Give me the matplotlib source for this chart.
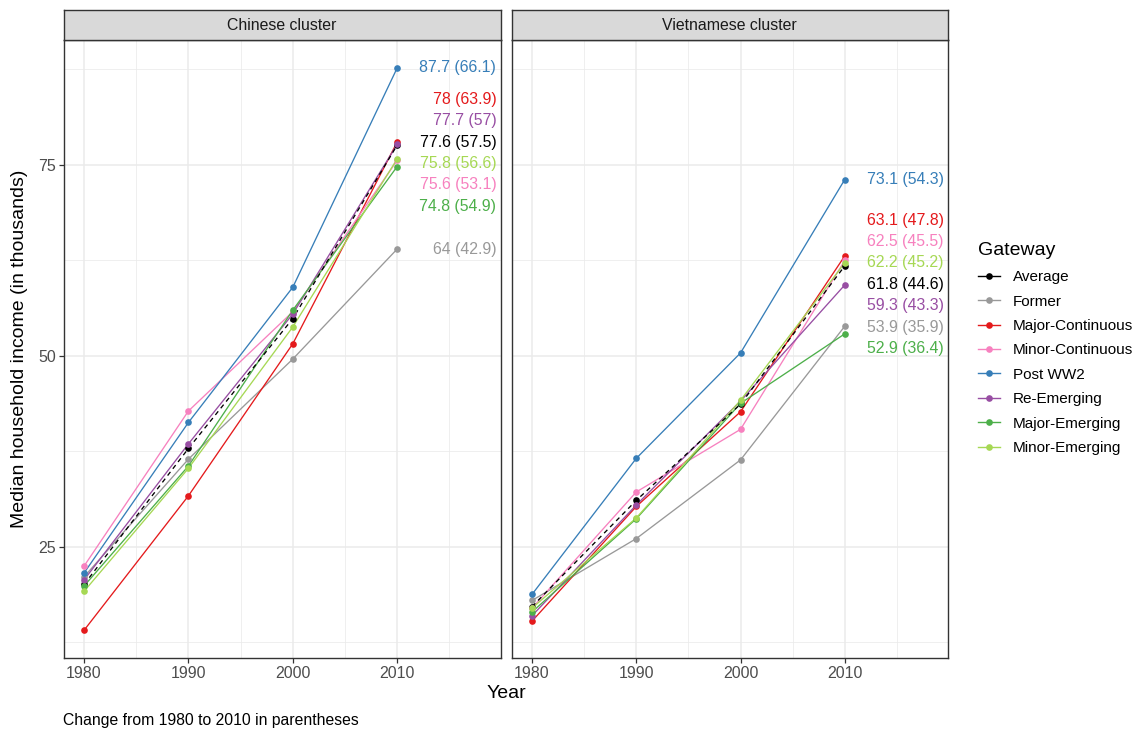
import matplotlib
matplotlib.use("Agg")
import matplotlib.pyplot as plt
from matplotlib.lines import Line2D
import numpy as np

plt.rcParams['font.family'] = ['Liberation Sans', 'DejaVu Sans']

years = [1980, 1990, 2000, 2010]
gateways = ["Average", "Former", "Major-Continuous", "Minor-Continuous",
            "Post WW2", "Re-Emerging", "Major-Emerging", "Minor-Emerging"]
colors = {"Average": "#000000", "Former": "#999999", "Major-Continuous": "#E41A1C",
          "Minor-Continuous": "#F781BF", "Post WW2": "#377EB8", "Re-Emerging": "#984EA3",
          "Major-Emerging": "#4DAF4A", "Minor-Emerging": "#A6D854"}

panels = ["Chinese cluster", "Vietnamese cluster"]

chinese = {
    "Average":          [20.1, 37.9, 54.9, 77.6],
    "Former":           [21.1, 36.5, 49.6, 64.0],
    "Major-Continuous": [14.1, 31.7, 51.6, 78.0],
    "Minor-Continuous": [22.5, 42.8, 55.8, 75.6],
    "Post WW2":         [21.6, 41.3, 59.0, 87.7],
    "Re-Emerging":      [20.7, 38.5, 55.5, 77.7],
    "Major-Emerging":   [19.9, 35.6, 56.0, 74.8],
    "Minor-Emerging":   [19.2, 35.3, 53.8, 75.8],
}
vietnamese = {
    "Average":          [17.2, 31.1, 43.7, 61.8],
    "Former":           [18.0, 26.1, 36.4, 53.9],
    "Major-Continuous": [15.3, 30.3, 42.7, 63.1],
    "Minor-Continuous": [17.0, 32.2, 40.4, 62.5],
    "Post WW2":         [18.8, 36.6, 50.4, 73.1],
    "Re-Emerging":      [16.0, 30.5, 44.1, 59.3],
    "Major-Emerging":   [16.5, 28.7, 43.8, 52.9],
    "Minor-Emerging":   [17.0, 28.8, 44.2, 62.2],
}
changes_ch = {"Average": 57.5, "Former": 42.9, "Major-Continuous": 63.9, "Minor-Continuous": 53.1,
              "Post WW2": 66.1, "Re-Emerging": 57, "Major-Emerging": 54.9, "Minor-Emerging": 56.6}
changes_vn = {"Average": 44.6, "Former": 35.9, "Major-Continuous": 47.8, "Minor-Continuous": 45.5,
              "Post WW2": 54.3, "Re-Emerging": 43.3, "Major-Emerging": 36.4, "Minor-Emerging": 45.2}
datasets = [(chinese, changes_ch), (vietnamese, changes_vn)]

W, H = 1137, 732
fig = plt.figure(figsize=(W / 100, H / 100), dpi=100)

def fx(px): return px / W
def fy(py): return 1 - py / H

panel_x = [(63.5, 500.5), (511.5, 948.0)]
top, bottom = 40.0, 658.0
strip_top = 10.0

def repel(values, gap):
    # simple 1-D label de-overlap: merge overlapping groups, center on mean
    order = np.argsort(values)
    vals = [values[i] for i in order]
    groups = []
    for v in vals:
        groups.append([v])
        while True:
            g = groups[-1]
            mean = np.mean(g)
            lo = mean - gap * (len(g) - 1) / 2
            if len(groups) > 1:
                pg = groups[-2]
                pmean = np.mean(pg)
                phi = pmean + gap * (len(pg) - 1) / 2
                if lo - phi < gap:
                    groups[-2] = pg + g
                    groups.pop()
                    continue
            break
    pos = []
    for g in groups:
        mean = np.mean(g)
        lo = mean - gap * (len(g) - 1) / 2
        pos += [lo + gap * k for k in range(len(g))]
    out = [0] * len(values)
    for k, i in enumerate(order):
        out[i] = pos[k]
    return out

xlim = (1978.03, 2019.9)
ylim = (10.47, 91.36)

for p, (title, (data, chg)) in enumerate(zip(panels, datasets)):
    x0, x1 = panel_x[p]
    ax = fig.add_axes([fx(x0), fy(bottom), fx(x1 - x0), (bottom - top) / H])
    ax.set_xlim(*xlim)
    ax.set_ylim(*ylim)
    ax.set_xticks(years)
    ax.set_xticks([1985, 1995, 2005, 2015], minor=True)
    ax.set_yticks([25, 50, 75])
    ax.set_yticks([12.5, 37.5, 62.5, 87.5], minor=True)
    ax.grid(True, which="major", color="#EBEBEB", lw=1.1, zorder=0)
    ax.grid(True, which="minor", color="#EBEBEB", lw=0.55, zorder=0)
    ax.set_axisbelow(True)
    for s in ax.spines.values():
        s.set_color("#333333")
        s.set_linewidth(1.0)
    ax.tick_params(which="major", length=3.5, width=0.9, color="#333333",
                   labelcolor="#4D4D4D", labelsize=11.5, pad=2)
    ax.tick_params(which="minor", length=0)
    if p == 1:
        ax.set_yticklabels([])
        ax.tick_params(axis="y", which="major", length=0)

    for g in gateways:
        if g == "Average":
            continue
        ax.plot(years, data[g], color=colors[g], lw=0.95, zorder=2)
    ax.plot(years, data["Average"], color="#000000", lw=0.95, ls=(0, (3.5, 3)), zorder=3)
    for g in gateways:
        ax.plot(years, data[g], ls="none", marker="o", ms=4.8, color=colors[g],
                mec="none", zorder=4)

    finals = [data[g][-1] for g in gateways]
    lab_y = repel(finals, 2.8)
    for g, ly in zip(gateways, lab_y):
        v = data[g][-1]
        c = chg[g]
        txt = f"{v:g} ({c:g})"
        ax.text(2019.5, ly, txt, color=colors[g], ha="right", va="center",
                fontsize=11.4, zorder=5)

    sax = fig.add_axes([fx(x0), fy(top), fx(x1 - x0), (top - strip_top) / H])
    sax.set_facecolor("#D9D9D9")
    sax.set_xticks([]); sax.set_yticks([])
    for s in sax.spines.values():
        s.set_color("#333333")
        s.set_linewidth(1.0)
    sax.text(0.5, 0.5, title, ha="center", va="center", fontsize=11.4,
             color="#1A1A1A", transform=sax.transAxes)

fig.text(fx(20), fy((top + bottom) / 2), "Median household income (in thousands)",
         rotation=90, ha="center", va="center", fontsize=14, color="#000000")
fig.text(fx(506), fy(694), "Year", ha="center", va="center", fontsize=14)
fig.text(fx(63), fy(720), "Change from 1980 to 2010 in parentheses", ha="left",
         va="center", fontsize=11.3)

handles = [Line2D([0], [0], color=colors[g], lw=1.0, marker="o", ms=4.8, mec="none")
           for g in gateways]
leg = fig.legend(handles, gateways, loc="upper left", bbox_to_anchor=(fx(972), fy(236)),
                 frameon=False, title="Gateway", fontsize=11.0, title_fontsize=14,
                 handlelength=1.45, labelspacing=0.68, handletextpad=0.85,
                 alignment="left", borderaxespad=0)
leg._legend_box.sep = 8

fig.savefig("out.png", dpi=100)
